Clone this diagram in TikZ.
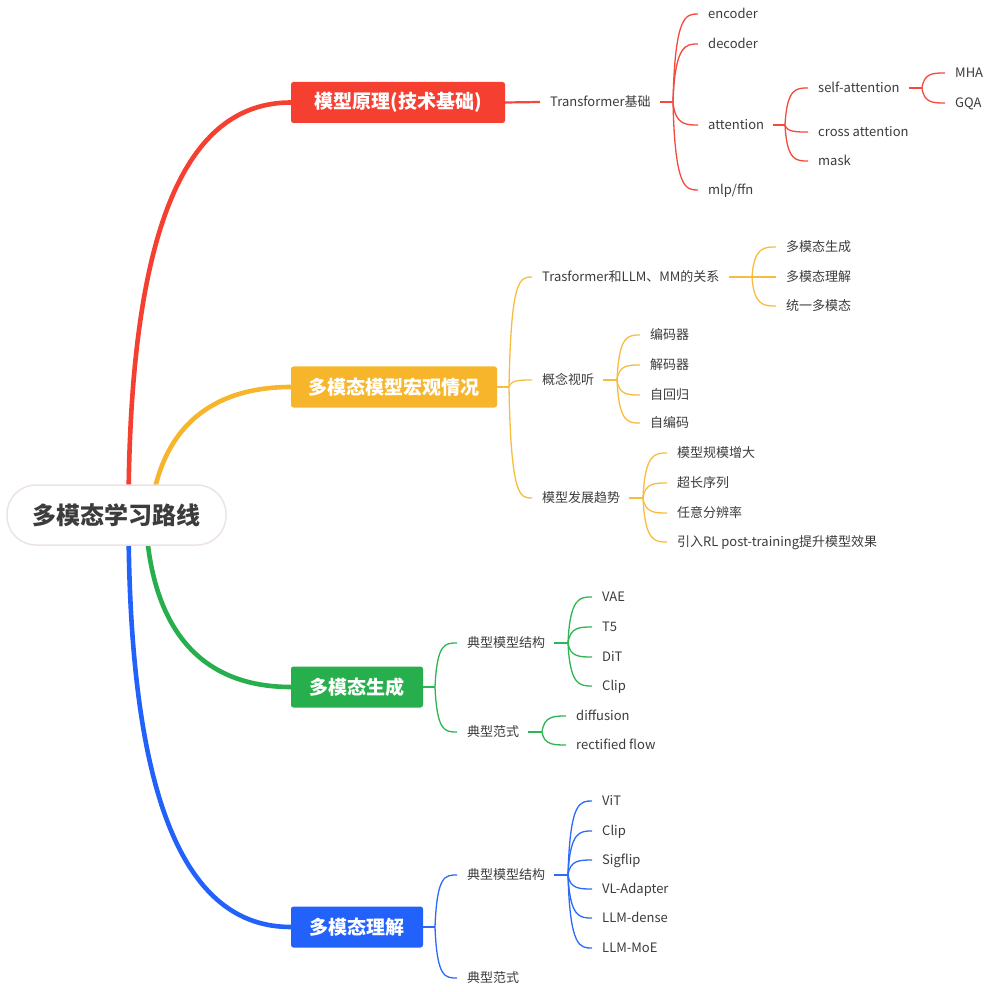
\documentclass[tikz,border=0pt]{standalone}
\usepackage{fontspec}
\setmainfont{Noto Sans CJK SC}
\usetikzlibrary{calc}
\definecolor{cred}{HTML}{F53F31}
\definecolor{corg}{HTML}{F6B52B}
\definecolor{cgrn}{HTML}{28AF4D}
\definecolor{cblu}{HTML}{2262FB}
\definecolor{lred}{HTML}{F6493D}
\definecolor{lorg}{HTML}{F8BD40}
\definecolor{lgrn}{HTML}{30B553}
\definecolor{lblu}{HTML}{2C6BF8}
\definecolor{txt}{HTML}{3C3C3C}
\definecolor{rootb}{HTML}{EDE3E5}
\newcommand\cv[3]{\draw[br,#1] (#2) .. controls ($(#3.west -| #2)+(2,0)$) and ($(#3.west)+(-22,0)$) .. ($(#3.west)+(-10,0)$);}
\newcommand\sg[3]{\draw[seg,#1] ($(#2.east)+(9,0)$) -- (#3);}
\begin{document}
\begin{tikzpicture}[x=1pt,y=-1pt,
  lbl/.style={anchor=west, inner sep=0pt, text=txt, text height=11pt, text depth=2pt, font=\fontsize{13}{15}\selectfont},
  box/.style={rounded corners=2.5pt, text=white, font=\fontsize{19}{21}\selectfont\bfseries, inner sep=0pt, minimum height=41pt},
  br/.style={line width=1.3pt},
  seg/.style={line width=2.2pt},
  main/.style={line width=4.6pt, line cap=round}]
\useasboundingbox (0,0) rectangle (999,992);
\fill[white] (0,0) rectangle (999,992);

% level-1 boxes
\node[box, fill=cred, minimum width=214pt] (rbox) at (398,102.5) {模型原理(技术基础)};
\node[box, fill=corg, minimum width=206pt] (obox) at (394,387) {多模态模型宏观情况};
\node[box, fill=cgrn, minimum width=132pt] (gbox) at (357,687) {多模态生成};
\node[box, fill=cblu, minimum width=132pt] (bbox) at (357,927) {多模态理解};

% root placeholder coordinate
\coordinate (rc) at (116.5,515);
\draw[main,cred] ($(rc)+(12,0)$) .. controls ($(rc)+(12,-285)$) and ($(rbox.west)+(-106,0)$) .. (rbox.west);
\draw[main,corg] ($(rc)+(34,0)$) .. controls ($(rc)+(44,-95)$) and ($(obox.west)+(-71,0)$) .. (obox.west);
\draw[main,cgrn] ($(rc)+(29,0)$) .. controls ($(rc)+(34,125)$) and ($(gbox.west)+(-81,0)$) .. (gbox.west);
\draw[main,cblu] ($(rc)+(12,0)$) .. controls ($(rc)+(12,285)$) and ($(bbox.west)+(-106,0)$) .. (bbox.west);

\node[draw=rootb, line width=1.5pt, fill=white, rounded corners=29pt, minimum width=219pt, minimum height=60pt, inner sep=0pt, text=txt, font=\fontsize{24}{26}\selectfont\bfseries] (root) at (rc) {多模态学习路线};

% ---------- red branch ----------
\node[lbl] (tf) at (550,102) {Transformer基础};
\draw[seg,lred] (rbox.east) -- ($(tf.west)+(-10,0)$);
\coordinate (btf) at (673,102);
\node[lbl] (enc) at (708,14) {encoder};
\node[lbl] (dec) at (708,44) {decoder};
\node[lbl] (att) at (708,125) {attention};
\node[lbl] (mlp) at (708,190) {mlp/ffn};
\sg{lred}{tf}{btf}
\cv{lred}{btf}{enc}\cv{lred}{btf}{dec}\cv{lred}{btf}{att}\cv{lred}{btf}{mlp}
\coordinate (batt) at (785,125);
\node[lbl] (sa) at (818,88) {self-attention};
\node[lbl] (ca) at (818,132) {cross attention};
\node[lbl] (mask) at (818,161) {mask};
\sg{lred}{att}{batt}
\cv{lred}{batt}{sa}\cv{lred}{batt}{ca}\cv{lred}{batt}{mask}
\coordinate (bsa) at (922,88);
\node[lbl] (mha) at (955,73) {MHA};
\node[lbl] (gqa) at (955,103) {GQA};
\sg{lred}{sa}{bsa}
\cv{lred}{bsa}{mha}\cv{lred}{bsa}{gqa}

% ---------- orange branch ----------
\coordinate (bo) at (509,387);
\draw[seg,lorg] (obox.east) -- (bo);
\node[lbl] (rel) at (542,277) {Trasformer和LLM、MM的关系};
\node[lbl] (gn) at (542,380) {概念视听};
\node[lbl] (qs) at (542,498) {模型发展趋势};
\cv{lorg}{bo}{rel}\cv{lorg}{bo}{gn}\cv{lorg}{bo}{qs}
\coordinate (brel) at (752,277);
\node[lbl] (o1) at (786,247) {多模态生成};
\node[lbl] (o2) at (786,277) {多模态理解};
\node[lbl] (o3) at (786,306) {统一多模态};
\sg{lorg}{rel}{brel}
\cv{lorg}{brel}{o1}\cv{lorg}{brel}{o2}\cv{lorg}{brel}{o3}
\coordinate (bgn) at (617,380);
\node[lbl] (g1) at (650,335) {编码器};
\node[lbl] (g2) at (650,365) {解码器};
\node[lbl] (g3) at (650,395) {自回归};
\node[lbl] (g4) at (650,423) {自编码};
\sg{lorg}{gn}{bgn}
\cv{lorg}{bgn}{g1}\cv{lorg}{bgn}{g2}\cv{lorg}{bgn}{g3}\cv{lorg}{bgn}{g4}
\coordinate (bqs) at (643,498);
\node[lbl] (q1) at (677,453) {模型规模增大};
\node[lbl] (q2) at (677,483) {超长序列};
\node[lbl] (q3) at (677,513) {任意分辨率};
\node[lbl] (q4) at (677,542) {引入RL post-training提升模型效果};
\sg{lorg}{qs}{bqs}
\cv{lorg}{bqs}{q1}\cv{lorg}{bqs}{q2}\cv{lorg}{bqs}{q3}\cv{lorg}{bqs}{q4}

% ---------- green branch ----------
\coordinate (bg) at (435,687);
\draw[seg,lgrn] (gbox.east) -- (bg);
\node[lbl] (gs) at (467,643) {典型模型结构};
\node[lbl] (gf) at (467,732) {典型范式};
\cv{lgrn}{bg}{gs}\cv{lgrn}{bg}{gf}
\coordinate (bgs) at (568,643);
\node[lbl] (s1) at (602,597) {VAE};
\node[lbl] (s2) at (602,627) {T5};
\node[lbl] (s3) at (602,657) {DiT};
\node[lbl] (s4) at (602,686) {Clip};
\sg{lgrn}{gs}{bgs}
\cv{lgrn}{bgs}{s1}\cv{lgrn}{bgs}{s2}\cv{lgrn}{bgs}{s3}\cv{lgrn}{bgs}{s4}
\coordinate (bgf) at (542,732);
\node[lbl] (f1) at (576,716) {diffusion};
\node[lbl] (f2) at (576,745) {rectified flow};
\sg{lgrn}{gf}{bgf}
\cv{lgrn}{bgf}{f1}\cv{lgrn}{bgf}{f2}

% ---------- blue branch ----------
\coordinate (bb) at (435,927);
\draw[seg,lblu] (bbox.east) -- (bb);
\node[lbl] (us) at (467,875) {典型模型结构};
\node[lbl] (uf) at (467,978) {典型范式};
\cv{lblu}{bb}{us}\cv{lblu}{bb}{uf}
\coordinate (bus) at (568,875);
\node[lbl] (u1) at (602,801) {ViT};
\node[lbl] (u2) at (602,831) {Clip};
\node[lbl] (u3) at (602,860) {Sigflip};
\node[lbl] (u4) at (602,889) {VL-Adapter};
\node[lbl] (u5) at (602,918) {LLM-dense};
\node[lbl] (u6) at (602,948) {LLM-MoE};
\sg{lblu}{us}{bus}
\cv{lblu}{bus}{u1}\cv{lblu}{bus}{u2}\cv{lblu}{bus}{u3}\cv{lblu}{bus}{u4}\cv{lblu}{bus}{u5}\cv{lblu}{bus}{u6}
\end{tikzpicture}
\end{document}
